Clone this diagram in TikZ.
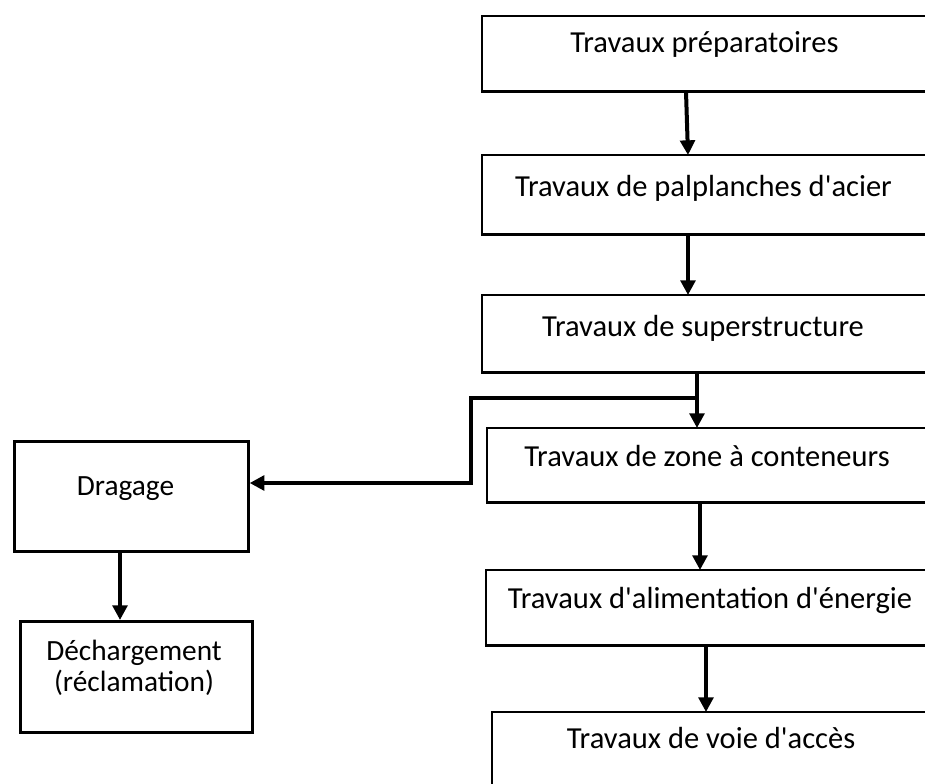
\documentclass[tikz,border=0pt]{standalone}
\usepackage{fontspec}
\setmainfont{Carlito}
\usetikzlibrary{arrows.meta,calc}
\newcommand{\ap}{\textquotesingle}
\begin{document}
\begin{tikzpicture}[x=0.75pt,y=-0.75pt,
  box/.style={draw,line width=2pt,anchor=north west,inner sep=0pt},
  cutbox/.style={anchor=north west,inner sep=0pt,minimum width=360pt},
  edge/.style={line width=2pt,line join=miter},
  lbl/.style={font=\fontsize{22.9}{24}\selectfont,inner sep=0pt,anchor=base},
  lbll/.style={font=\fontsize{22}{23.25}\selectfont,inner sep=0pt,anchor=base,align=center},
  arr/.style={line width=3pt,-{Triangle[length=11pt,width=11pt]}}]
\useasboundingbox (0,0) rectangle (925,783);
\clip (0,0) rectangle (925,783);
% right column boxes (open on the right: cut by the edge of the picture)
\node[cutbox,minimum height=56.25pt] (b1) at (482,16) {};
\node[cutbox,minimum height=59.25pt] (b2) at (482,155) {};
\node[cutbox,minimum height=57.75pt] (b3) at (482,295) {};
\node[cutbox,minimum height=55.5pt] (b4) at (487,428) {};
\node[cutbox,minimum height=56.25pt] (b5) at (486,570) {};
\node[cutbox,minimum height=70pt] (b6) at (492,712) {};
\foreach \b in {b1,b2,b3,b4,b5,b6}
  \draw[edge] (\b.north east) -- (\b.north west) -- (\b.south west) -- (\b.south east);
% left column boxes
\node[box,minimum width=175.5pt,minimum height=82.5pt] (drag) at (13,440) {};
\node[box,minimum width=174pt,minimum height=83.25pt] (dech) at (19,620) {};
% labels
\node[lbl] (t1) at (704.5,52.7) {Travaux préparatoires};
\node[lbl] (t2) at (703.5,196) {Travaux de palplanches d\ap acier};
\node[lbl] (t3) at (703,336) {Travaux de superstructure};
\node[lbl] (t4) at (707,466) {Travaux de zone à conteneurs};
\node[lbl] (t5) at (710,608) {Travaux d\ap alimentation d\ap énergie};
\node[lbl] (t6) at (711,748) {Travaux de voie d\ap accès};
\node[lbll] (td) at (125.5,495) {Dragage};
\node[lbll] (te) at (134,691) {Déchargement\\(réclamation)};
% connectors
\draw[arr] ($(b1.south west)+(204,0)$) -- ($(b2.north west)+(206,0)$);
\draw[arr] ($(b2.south west)+(206,0)$) -- ($(b3.north west)+(206,0)$);
\draw[arr] ($(b3.south west)+(215,0)$) -- ($(b4.north west)+(210,0)$);
\draw[arr] ($(b4.south west)+(213,0)$) -- ($(b5.north west)+(214,0)$);
\draw[arr] ($(b5.south west)+(220,0)$) -- ($(b6.north west)+(214,0)$);
\draw[arr] ($(drag.south west)+(107,0)$) -- ($(dech.north west)+(101,0)$);
\coordinate (j) at (697,398);
\coordinate (k1) at (471,398);
\coordinate (k2) at (471,483);
\draw[arr,line join=miter] (j) -- (k1) -- (k2) -- ($(drag.north east)+(0,43)$);
\end{tikzpicture}
\end{document}
